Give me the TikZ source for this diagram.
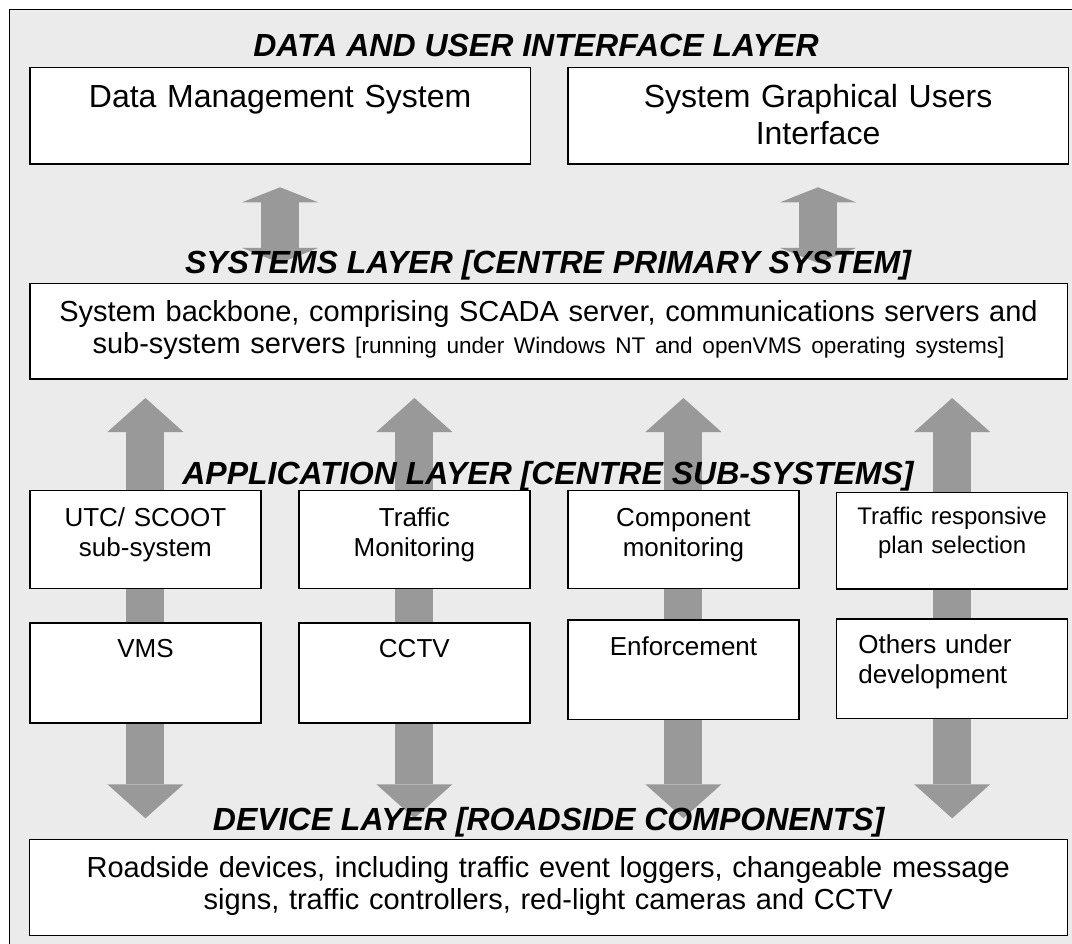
\documentclass[tikz,border=0pt]{standalone}
\usepackage{fontspec}
\setmainfont{Liberation Sans}
\usetikzlibrary{arrows.meta,calc}
\pgfdeclarelayer{fond}
\pgfsetlayers{fond,main}
\definecolor{grisfond}{RGB}{235,235,235}
\definecolor{grisfleche}{RGB}{153,153,153}
\begin{document}
\begin{tikzpicture}[x=1pt,y=-1pt]
% Styles
\tikzstyle{cadre}=[draw=black,line width=1.3pt,fill=grisfond]
\tikzstyle{boite}=[draw=black,line width=1.3pt,fill=white,inner sep=0pt,align=center,anchor=north west]
\tikzstyle{titre}=[inner sep=0pt,anchor=base,font={\fontsize{32pt}{36.8pt}\selectfont\bfseries\itshape}]
\tikzstyle{fleche}=[line width=38pt,draw=grisfleche,{Triangle[width=76pt,length=34pt,line width=0pt]}-{Triangle[width=76pt,length=34pt,line width=0pt]}]
\tikzstyle{flechecourte}=[line width=38pt,draw=grisfleche,{Triangle[width=76pt,length=15pt,line width=0pt]}-{Triangle[width=76pt,length=15pt,line width=0pt]}]
% Polices
\def\PoliceA{\fontsize{32pt}{36.8pt}\selectfont}
\def\PoliceB{\fontsize{29pt}{32.6pt}\selectfont}
\def\PoliceC{\fontsize{26pt}{30pt}\selectfont}
\def\PoliceD{\fontsize{24pt}{28.3pt}\selectfont}
\def\PoliceE{\fontsize{22.6pt}{32.6pt}\selectfont}
% Dimensions
\def\LargeurColonne{231pt}
\def\NiveauA{66.7}
\def\NiveauB{282.7}
\def\NiveauC{490}
\def\NiveauD{622.3}
\def\NiveauE{839}
\useasboundingbox (0,0) rectangle (1072,944);
% Titres
\node[titre] (TitreA) at (536,56.7) {DATA AND USER INTERFACE LAYER};
\node[titre] (TitreB) at (548,273.3) {SYSTEMS LAYER [CENTRE PRIMARY SYSTEM]};
\node[titre] (TitreC) at (548,484) {APPLICATION LAYER [CENTRE SUB-SYSTEMS]};
\node[titre] (TitreD) at (548.7,830) {DEVICE LAYER [ROADSIDE COMPONENTS]};
% Couche donnees
\node[boite,font=\PoliceA,text width=500.3pt,text height=40.6pt,text depth=56pt] (DMS) at (29.3,\NiveauA) {Data Management System};
\node[boite,font=\PoliceA,text width=500.2pt,text height=40pt,text depth=56.6pt] (SGUI) at (567.3,\NiveauA) {System Graphical Users\\Interface};
% Couche systemes
\node[boite,font=\PoliceB,text width=1037.2pt,text height=38pt,text depth=57.6pt] (Sys) at (29.3,\NiveauB) {System backbone, comprising SCADA server, communications servers and\\sub-system servers {\PoliceE[running under Windows NT and openVMS operating systems]}};
% Couche applications
\node[boite,font=\PoliceC,text width=\LargeurColonne,text height=36pt,text depth=61.7pt] (A1) at (29.3,\NiveauC) {UTC/ SCOOT\\sub-system};
\node[boite,font=\PoliceC,text width=\LargeurColonne,text height=36pt,text depth=61.7pt] (A2) at (298.2,\NiveauC) {Traffic\\Monitoring};
\node[boite,font=\PoliceC,text width=\LargeurColonne,text height=36pt,text depth=61.7pt] (A3) at (567.3,\NiveauC) {Component\\monitoring};
\node[boite,font=\PoliceD,text width=\LargeurColonne,text height=32.6pt,text depth=64pt] (A4) at (836,491.7) {Traffic responsive\\plan selection};
\node[boite,font=\PoliceC,text width=\LargeurColonne,text height=34.7pt,text depth=65.3pt] (B1) at (29.3,\NiveauD) {VMS};
\node[boite,font=\PoliceC,text width=\LargeurColonne,text height=34.7pt,text depth=65.3pt] (B2) at (298.2,\NiveauD) {CCTV};
\node[boite,font=\PoliceC,text width=\LargeurColonne,text height=35.7pt,text depth=64pt] (B3) at (567.3,619.3) {Enforcement};
\node[boite,font=\PoliceC,align=left,inner xsep=21.7pt,text width=187.6pt,text height=34.4pt,text depth=65pt] (B4) at (836,618.3) {Others under\\development};
% Couche equipements
\node[boite,font=\PoliceB,text width=1037.8pt,text height=37.7pt,text depth=58.3pt] (Dev) at (28.7,\NiveauE) {Roadside devices, including traffic event loggers, changeable message\\signs, traffic controllers, red-light cameras and CCTV};
% Fond et fleches
\begin{pgfonlayer}{fond}
\fill[white] (0,0) rectangle (1072,944);
\draw[cadre] (9.5,9.3) rectangle (1100,970);
\draw[flechecourte] ($(DMS.south)+(0,22.7)$) -- ($(Sys.north -| DMS.south)+(0,-19.7)$);
\draw[flechecourte] ($(SGUI.south)+(0,22.7)$) -- ($(Sys.north -| SGUI.south)+(0,-19.7)$);
\foreach \n in {A1,A2,A3,A4}
  \draw[fleche] ($(Sys.south -| \n.north)+(0,18.4)$) -- ($(Dev.north -| \n.north)+(0,-20.7)$);
\end{pgfonlayer}
\end{tikzpicture}
\end{document}
